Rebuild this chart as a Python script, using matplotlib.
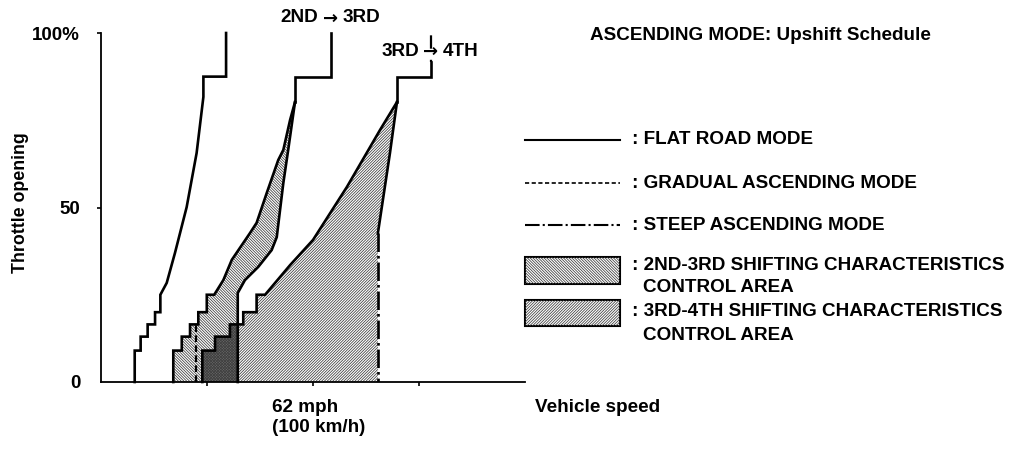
import numpy as np
import matplotlib
matplotlib.use("Agg")
import matplotlib.pyplot as plt
from matplotlib.patches import Rectangle

plt.rcParams['font.family'] = ['Liberation Sans', 'DejaVu Sans']
plt.rcParams['font.weight'] = 'bold'
plt.rcParams['hatch.linewidth'] = 0.55

W, H = 1028, 451

# vehicle speed in km/h, throttle opening in %
flat_x = [15.9, 15.9, 18.7, 18.7, 22.0, 22.0, 25.5, 25.5, 28.0, 28.0,
          31.0, 34.9, 40.4, 45.1, 48.3, 48.3, 59.0, 59.0]
flat_y = [0, 9, 9, 13, 13, 16.5, 16.5, 20, 20, 25,
          28.4, 37.0, 50.1, 65.6, 81.7, 87.5, 87.5, 100]

# 2nd -> 3rd control area, left edge (bottom up) and right edge (top down)
a23_left_x = [34.1, 34.1, 38.1, 38.1, 42.0, 42.0, 45.9, 45.9, 49.9, 49.9, 53.4,
              57.7, 61.7, 70.3, 73.4, 78.2, 83.6, 86.0, 89.2, 91.5]
a23_left_y = [0, 9, 9, 13, 13, 16.5, 16.5, 20, 20, 25, 25,
              29.2, 35.0, 42.7, 45.6, 54.2, 63.6, 66.5, 75.1, 80.2]
a23_right_x = [91.5, 88.3, 86.0, 82.9, 80.5, 74.2, 67.9, 64.5, 64.5]
a23_right_y = [80.2, 66.5, 57.0, 41.5, 37.8, 33.0, 29.2, 25.5, 0]
top23_x = [91.5, 91.5, 108.5, 108.5]
top23_y = [80.2, 87.5, 87.5, 100]

# gradual ascending mode shift point
grad_x = [44.7, 44.7]
grad_y = [0, 16.5]

# 3rd -> 4th control area
a34_left_x = [47.8, 47.8, 53.8, 53.8, 60.8, 60.8, 67.1, 67.1, 73.4, 73.4, 77.4,
              89.2, 100.0, 116.0, 131.6, 139.6]
a34_left_y = [0, 9, 9, 13, 13, 16.5, 16.5, 20, 20, 25, 25,
              33.5, 40.7, 55.9, 72.2, 80.2]
a34_right_x = [139.6, 136.3, 133.2, 130.6]
a34_right_y = [80.2, 65.6, 53.1, 42.6]
steep_x = [130.6, 130.6]
steep_y = [42.6, 0]
top34_x = [139.6, 139.6, 155.5, 155.5]
top34_y = [80.2, 87.5, 87.5, 91.8]
top34_steep_x = [155.5, 155.5]
top34_steep_y = [91.8, 100]

HATCH_23 = '\\' * 12
HATCH_34 = '/' * 12
HATCH_COLOR = '#3a3a3a'

fig = plt.figure(figsize=(W / 100, H / 100), dpi=100)
ax = fig.add_axes([101 / W, 1 - 382 / H, (525 - 101) / W, (382 - 33) / H])
ax.set_xlim(0, 200)
ax.set_ylim(0, 100)
for s in ['top', 'right']:
    ax.spines[s].set_visible(False)
for s in ['left', 'bottom']:
    ax.spines[s].set_linewidth(1.3)

ax.set_yticks([0, 50, 100])
ax.set_yticklabels(['0', '50', '100%'], fontsize=13.5)
ax.set_xticks([50, 100, 150])
ax.set_xticklabels([])
ax.tick_params(length=3, width=1.2, pad=12)
ax.tick_params(axis='x', pad=4)
ax.yaxis.get_major_ticks()[0].tick1line.set_visible(False)

# where the two control areas overlap (stepped 3-4 edge vs vertical 2-3 edge)
step_lv = np.array(a34_left_y[1:10:2])
step_x = np.array(a34_left_x[0:10:2])
yy = np.linspace(0, step_lv[-1], 400)
ov_left = step_x[np.clip(np.searchsorted(step_lv, yy, side='right'), 0, len(step_x) - 1)]
ov_right = np.full_like(yy, a23_right_x[-1])
ax.fill_betweenx(yy, ov_left, ov_right, where=ov_left < ov_right,
                 facecolor='#6a6a6a', linewidth=0)

# shaded control areas
ax.fill(a34_left_x + a34_right_x + steep_x[1:], a34_left_y + a34_right_y + steep_y[1:],
        facecolor='none', edgecolor=HATCH_COLOR, hatch=HATCH_34, linewidth=0)
ax.fill(a23_left_x + a23_right_x, a23_left_y + a23_right_y,
        facecolor='none', edgecolor=HATCH_COLOR, hatch=HATCH_23, linewidth=0)

lw = 1.9
kw = dict(color='black', lw=lw, clip_on=False, solid_joinstyle='miter')
ax.plot(flat_x, flat_y, **kw)
ax.plot(a23_left_x, a23_left_y, **kw)
ax.plot(a23_right_x, a23_right_y, **kw)
ax.plot(top23_x, top23_y, **kw)
ax.plot(a34_left_x, a34_left_y, **kw)
ax.plot(a34_right_x, a34_right_y, **kw)
ax.plot(top34_x, top34_y, **kw)
ax.plot(grad_x, grad_y, color='black', lw=1.6, ls=(0, (3, 1.5)))
ax.plot(steep_x, steep_y, color='black', lw=1.9, ls=(0, (7, 1.5, 1, 1.5)))
ax.plot(top34_steep_x, top34_steep_y, color='black', lw=1.6,
        ls=(0, (1, 5, 6, 3)), clip_on=False)

# labels and legend in pixel space
ov = fig.add_axes([0, 0, 1, 1])
ov.set_xlim(0, W)
ov.set_ylim(H, 0)
ov.axis('off')

fs = 13.6
ov.text(21, 203, 'Throttle opening', rotation=90, ha='center', va='center', fontsize=12.8)
ov.text(272, 408, '62 mph', ha='left', va='center', fontsize=fs)
ov.text(272, 428, '(100 km/h)', ha='left', va='center', fontsize=fs)
ov.text(535, 408, 'Vehicle speed', ha='left', va='center', fontsize=fs)

# gear change labels, arrow sitting on the shift line
arrow_kw = dict(ha='center', va='center', fontsize=13, family='DejaVu Sans')
ov.text(318, 18, '2ND', ha='right', va='center', fontsize=fs)
ov.text(331, 19, '\u2192', **arrow_kw)
ov.text(343, 18, '3RD', ha='left', va='center', fontsize=fs)
ov.text(419, 51, '3RD', ha='right', va='center', fontsize=fs)
ov.text(431, 52, '\u2192', **arrow_kw)
ov.text(443, 51, '4TH', ha='left', va='center', fontsize=fs)

ov.text(590, 35, 'ASCENDING MODE: Upshift Schedule', ha='left', va='center', fontsize=fs)

lx0, lx1, tx = 525, 620, 632
ov.plot([lx0, lx1], [140, 140], color='black', lw=1.5)
ov.text(tx, 140, ': FLAT ROAD MODE', va='center', fontsize=fs)
ov.plot([lx0, lx1], [183, 183], color='black', lw=1.2, ls=(0, (2.5, 1.5)))
ov.text(tx, 183, ': GRADUAL ASCENDING MODE', va='center', fontsize=fs)
ov.plot([lx0, lx1], [225, 225], color='black', lw=1.5, ls=(0, (7, 1.5, 1, 1.5)))
ov.text(tx, 225, ': STEEP ASCENDING MODE', va='center', fontsize=fs)

ov.add_patch(Rectangle((lx0, 257), lx1 - lx0, 27, facecolor='white', edgecolor='black',
                       lw=1.5))
ov.add_patch(Rectangle((lx0, 257), lx1 - lx0, 27, facecolor='none', edgecolor=HATCH_COLOR,
                       hatch=HATCH_23, lw=0))
ov.text(tx, 265, ': 2ND-3RD SHIFTING CHARACTERISTICS', va='center', fontsize=fs)
ov.text(643, 287, 'CONTROL AREA', va='center', fontsize=fs)
ov.add_patch(Rectangle((lx0, 300), lx1 - lx0, 26, facecolor='white', edgecolor='black',
                       lw=1.5))
ov.add_patch(Rectangle((lx0, 300), lx1 - lx0, 26, facecolor='none', edgecolor=HATCH_COLOR,
                       hatch=HATCH_34, lw=0))
ov.text(tx, 312, ': 3RD-4TH SHIFTING CHARACTERISTICS', va='center', fontsize=fs)
ov.text(643, 335, 'CONTROL AREA', va='center', fontsize=fs)

fig.savefig('out.png', dpi=100, facecolor='white')
